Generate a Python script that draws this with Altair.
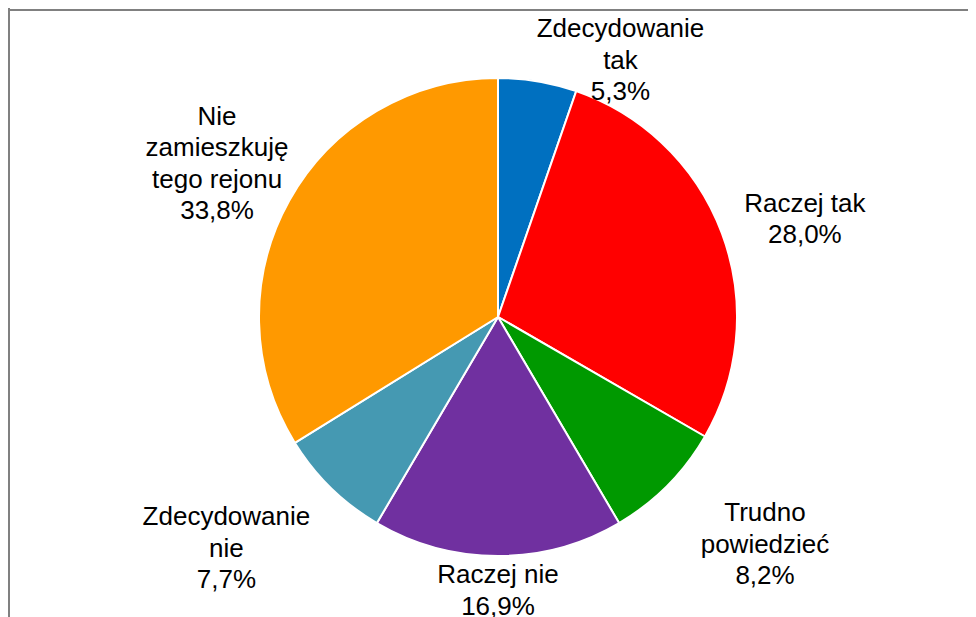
import altair as alt
import pandas as pd

# ---- data ----
categories = ["Zdecydowanie tak", "Raczej tak", "Trudno powiedzieć",
              "Raczej nie", "Zdecydowanie nie", "Nie zamieszkuję tego rejonu"]
values = [5.3, 28.0, 8.2, 16.9, 7.7, 33.8]
wrapped_labels = ["Zdecydowanie\ntak", "Raczej tak", "Trudno\npowiedzieć",
                  "Raczej nie", "Zdecydowanie\nnie", "Nie\nzamieszkuję\ntego rejonu"]

# ---- style / layout ----
colors = ["#0070C0", "#FF0000", "#009900", "#7030A0", "#4599B2", "#FF9900"]
label_angle_shift_deg = [16.0, 2.8, -4.3, 0.0, 5.2, -0.5]
label_radius_px = [284, 322, 351, 274, 357, 320]

W, H = 960, 609
CX, CY = 490, 309
R = 239
LH = 31.5

df = pd.DataFrame({
    "category": categories,
    "value": values,
    "wrapped": wrapped_labels,
    "order": list(range(len(categories))),
    "shift": label_angle_shift_deg,
    "lr": label_radius_px,
})

base = alt.Chart(df)

arcs = base.mark_arc(radius=R, stroke="white", strokeWidth=2).encode(
    theta=alt.Theta("value:Q", stack=True),
    order=alt.Order("order:Q"),
    color=alt.Color("category:N",
                    scale=alt.Scale(domain=categories, range=colors),
                    legend=None),
    x=alt.value(CX),
    y=alt.value(CY),
)

labels = base.transform_window(
    cum="sum(value)", sort=[alt.SortField("order")], frame=[None, 0]
).transform_joinaggregate(
    total="sum(value)"
).transform_calculate(
    mid="(datum.cum - datum.value/2) / datum.total * 2 * PI + datum.shift * PI / 180",
    lbl="split(datum.wrapped + '\\n' + replace(format(datum.value, '.1f'), '.', ',') + '%', '\\n')",
).transform_calculate(
    lx=f"{CX} + datum.lr * sin(datum.mid)",
    ly=f"{CY} - datum.lr * cos(datum.mid) - (length(datum.lbl) - 1) * {LH} / 2",
).mark_text(
    font="Liberation Sans", fontSize=26, lineHeight=LH,
    align="center", baseline="middle", color="black",
).encode(
    x=alt.X("lx:Q", scale=None),
    y=alt.Y("ly:Q", scale=None),
    text="lbl:N",
)

frame_data = alt.Data(values=[{"k": 1}])
left_rule = alt.Chart(frame_data).mark_rule(color="#808080", strokeWidth=2).encode(
    x=alt.value(1), y=alt.value(0), y2=alt.value(H)
)
top_rule = alt.Chart(frame_data).mark_rule(color="#808080", strokeWidth=2).encode(
    x=alt.value(0), x2=alt.value(W), y=alt.value(2)
)

chart = alt.layer(arcs, labels, left_rule, top_rule).resolve_scale(
    theta="independent"
).properties(
    width=W, height=H, padding=0,
    autosize=alt.AutoSizeParams(type="none"),
    background="white",
).configure_view(strokeWidth=0)

chart.save("out.html", embed_options={"renderer": "svg", "actions": False})
